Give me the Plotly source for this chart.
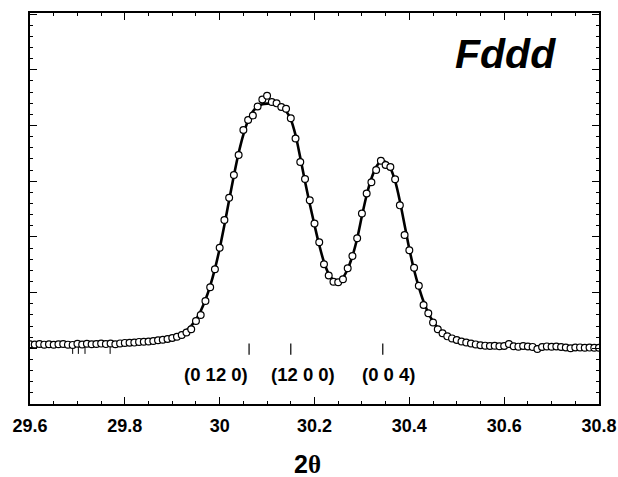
import numpy as np
import plotly.graph_objects as go

# 2-theta grid of the scan (degrees), step 0.01
two_theta = np.round(np.arange(29.60, 30.8001, 0.01), 2)

# observed intensity (counts)
observed = [
    1072, 1068, 1077, 1066, 1073, 1063, 1072, 1077, 1066, 1061,
    1081, 1068, 1082, 1073, 1077, 1084, 1075, 1086, 1072, 1088,
    1097, 1101, 1102, 1115, 1118, 1122, 1131, 1144, 1154, 1167,
    1185, 1208, 1239, 1284, 1343, 1490, 1598, 1849, 2095, 2418,
    2806, 3303, 3704, 4111, 4470, 4919, 5099, 5180, 5341, 5467,
    5535, 5422, 5398, 5332, 5302, 5129, 4767, 4345, 4039, 3659,
    3241, 2903, 2510, 2307, 2196, 2185, 2239, 2436, 2657, 2975,
    3420, 3779, 3980, 4201, 4366, 4291, 4255, 4034, 3567, 3034,
    2761, 2447, 2124, 1777, 1628, 1463, 1341, 1269, 1215, 1178,
    1149, 1122, 1104, 1086, 1070, 1056, 1048, 1041, 1045, 1038,
    1041, 1077, 1036, 1030, 1041, 1032, 1025, 987, 1023, 1034,
    1027, 1032, 1023, 1014, 1000, 1014, 1016, 1009, 1013, 1009,
    1009,
]

# calculated profile (counts)
calculated = [
    1075, 1075, 1075, 1075, 1075, 1075, 1075, 1075, 1075, 1075,
    1075, 1075, 1075, 1075, 1076, 1077, 1078, 1080, 1083, 1089,
    1095, 1099, 1104, 1111, 1118, 1126, 1135, 1145, 1158, 1174,
    1196, 1224, 1266, 1323, 1404, 1517, 1670, 1871, 2122, 2427,
    2792, 3214, 3662, 4102, 4506, 4838, 5090, 5251, 5341, 5381,
    5393, 5395, 5383, 5341, 5260, 5108, 4829, 4425, 3995, 3591,
    3214, 2854, 2549, 2334, 2226, 2208, 2271, 2424, 2657, 2972,
    3375, 3752, 4048, 4255, 4354, 4345, 4237, 4004, 3645, 3214,
    2783, 2406, 2100, 1840, 1634, 1481, 1368, 1287, 1226, 1181,
    1149, 1124, 1104, 1088, 1075, 1065, 1057, 1050, 1047, 1045,
    1043, 1041, 1039, 1037, 1036, 1034, 1032, 1030, 1029, 1027,
    1025, 1023, 1021, 1019, 1018, 1016, 1014, 1013, 1013, 1012,
    1011,
]

# Bragg reflection positions and their hkl labels
reflections = [30.062, 30.150, 30.344]
reflection_level = [987, 987, 987]
hkl_labels = ["(0 12 0)", "(12 0 0)", "(0 0 4)"]
hkl_label_x = [29.993, 30.176, 30.357]

# weak extra markers in the background region
extra_marks = [29.690, 29.702, 29.716, 29.769]
extra_level = [1000, 1000, 1000, 1000]

SANS = "Liberation Sans"

fig = go.Figure()

fig.add_trace(go.Scatter(
    x=extra_marks, y=extra_level, mode="markers",
    marker=dict(symbol="line-ns", size=8, line=dict(color="black", width=1)),
    hoverinfo="skip", showlegend=False,
))

fig.add_trace(go.Scatter(
    x=two_theta, y=calculated, mode="lines",
    line=dict(color="black", width=2.6, shape="spline", smoothing=0.8),
    showlegend=False,
))

fig.add_trace(go.Scatter(
    x=two_theta, y=observed, mode="markers",
    marker=dict(symbol="circle", size=6.8, color="white",
                line=dict(color="black", width=1.2)),
    showlegend=False,
))

fig.add_trace(go.Scatter(
    x=reflections, y=reflection_level, mode="markers",
    marker=dict(symbol="line-ns", size=8, line=dict(color="black", width=1.2)),
    hoverinfo="skip", showlegend=False,
))

for lx, txt in zip(hkl_label_x, hkl_labels):
    fig.add_annotation(
        x=lx, y=521, xref="x", yref="y", text=txt,
        xanchor="center", yanchor="middle", showarrow=False,
        font=dict(family=SANS, size=18.5, color="black", weight="bold"),
    )

# space-group label
fig.add_annotation(
    x=0.835, y=0.895, xref="paper", yref="paper",
    xanchor="center", yanchor="middle",
    text="Fddd", showarrow=False,
    font=dict(family=SANS, size=41, color="black", weight="bold", style="italic"),
)

# x-axis title
fig.add_annotation(
    x=0.487, y=-0.153, xref="paper", yref="paper",
    xanchor="center", yanchor="middle", showarrow=False,
    text='2<span style="font-family:\'Liberation Serif\'">θ</span>',
    font=dict(family=SANS, size=25, color="black", weight="bold"),
)

axis_common = dict(
    showline=True, linecolor="black", linewidth=1.6, mirror="allticks",
    ticks="inside", tickcolor="black", tickwidth=1.2, showgrid=False,
    zeroline=False,
)

fig.update_xaxes(
    range=[29.6, 30.8], dtick=0.2, tick0=29.6, ticklen=7,
    tickformat="~r",
    minor=dict(dtick=0.05, ticks="inside", ticklen=3.5, tickcolor="black",
               tickwidth=1, showgrid=False),
    tickfont=dict(family=SANS, size=18, color="black", weight="bold"),
    ticklabelstandoff=5,
    **axis_common,
)
fig.update_yaxes(
    range=[0, 7020], dtick=1000, tick0=0, ticklen=7, showticklabels=False,
    minor=dict(dtick=200, ticks="inside", ticklen=3.5, tickcolor="black",
               tickwidth=1, showgrid=False),
    **axis_common,
)

fig.update_layout(
    width=618, height=477,
    margin=dict(l=30, r=19, t=13, b=73, autoexpand=False),
    paper_bgcolor="white", plot_bgcolor="white",
    showlegend=False,
)

fig.write_html("out.html")
